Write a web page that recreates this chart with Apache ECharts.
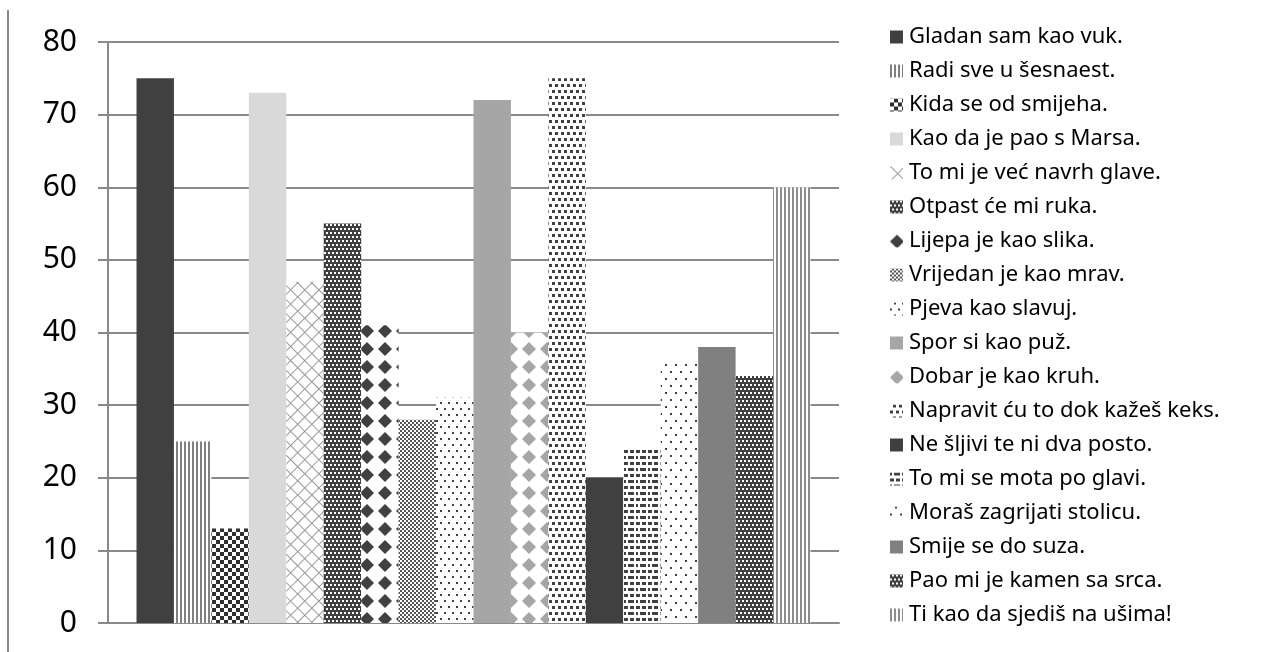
<!DOCTYPE html>
<html>
<head>
<meta charset="utf-8">
<script src="https://cdn.jsdelivr.net/npm/echarts@6/dist/echarts.min.js"></script>
<style>html,body{margin:0;padding:0;background:#fff;}#c{width:1262px;height:652px;}</style>
</head>
<body>
<div id="c"></div>
<script>
var categories = [''];
var seriesNames = [
  'Gladan sam kao vuk.',
  'Radi sve u šesnaest.',
  'Kida se od smijeha.',
  'Kao da je pao s Marsa.',
  'To mi je već navrh glave.',
  'Otpast će mi ruka.',
  'Lijepa je kao slika.',
  'Vrijedan je kao mrav.',
  'Pjeva kao slavuj.',
  'Spor si kao puž.',
  'Dobar je kao kruh.',
  'Napravit ću to dok kažeš keks.',
  'Ne šljivi te ni dva posto.',
  'To mi se mota po glavi.',
  'Moraš zagrijati stolicu.',
  'Smije se do suza.',
  'Pao mi je kamen sa srca.',
  'Ti kao da sjediš na ušima!'
];
var seriesValues = [75, 25, 13, 73, 47, 55, 41, 28, 31, 72, 40, 75, 20, 24, 36, 38, 34, 60];
var yTicks = [0, 10, 20, 30, 40, 50, 60, 70, 80];

// fill styles (base colour + optional pattern)
var gridRows = [[10, 0]];
for (var i = 0; i < 9; i++) gridRows.push([1, 9]);
var styles = [
  {color: '#404040'},
  {color: '#ffffff', decal: {symbol: 'rect', symbolSize: 1, color: '#808080', dashArrayX: [2, 2], dashArrayY: [1, 0]}},
  {color: '#ffffff', decal: {symbol: 'rect', symbolSize: 1, color: '#303030', dashArrayX: [[4, 4], [0, 4, 4, 0]], dashArrayY: [4, 0]}},
  {color: '#d9d9d9'},
  {color: '#ffffff', decal: {symbol: 'rect', symbolSize: 1, color: '#9a9a9a', dashArrayX: gridRows, dashArrayY: [1, 0], rotation: Math.PI / 4}},
  {color: '#404040', decal: {symbol: 'rect', symbolSize: 1, color: '#ffffff', dashArrayX: [[2, 2], [0, 2, 2, 0]], dashArrayY: [2, 2]}},
  {color: '#ffffff', decal: {symbol: 'diamond', symbolSize: 1, color: '#404040', dashArrayX: [14, 4], dashArrayY: [14, 4]}},
  {color: '#ffffff', decal: {symbol: 'rect', symbolSize: 1, color: '#555555', dashArrayX: [[2, 2], [0, 2, 2, 0]], dashArrayY: [2, 0]}},
  {color: '#ffffff', decal: {symbol: 'rect', symbolSize: 1, color: '#404040', dashArrayX: [[2, 6], [0, 4, 2, 2]], dashArrayY: [2, 4]}},
  {color: '#a6a6a6'},
  {color: '#ffffff', decal: {symbol: 'diamond', symbolSize: 1, color: '#a6a6a6', dashArrayX: [14, 4], dashArrayY: [14, 4]}},
  {color: '#ffffff', decal: {symbol: 'rect', symbolSize: 1, color: '#404040', dashArrayX: [[3, 3], [0, 3, 3, 0]], dashArrayY: [3, 3]}},
  {color: '#404040'},
  {color: '#ffffff', decal: {symbol: 'rect', symbolSize: 1, color: '#404040', dashArrayX: [[4, 2, 4, 2], [2, 2, 6, 2]], dashArrayY: [3, 3]}},
  {color: '#ffffff', decal: {symbol: 'rect', symbolSize: 1, color: '#404040', dashArrayX: [[2, 8], [0, 5, 2, 3]], dashArrayY: [2, 5]}},
  {color: '#808080'},
  {color: '#404040', decal: {symbol: 'rect', symbolSize: 1, color: '#ffffff', dashArrayX: [[2, 2], [0, 2, 2, 0]], dashArrayY: [2, 2]}},
  {color: '#ffffff', decal: {symbol: 'rect', symbolSize: 1, color: '#8c8c8c', dashArrayX: [2, 2], dashArrayY: [1, 0]}}
];

var series = seriesNames.map(function (name, i) {
  var st = styles[i];
  var itemStyle = {color: st.color};
  if (st.decal) itemStyle.decal = st.decal;
  return {
    name: name,
    type: 'bar',
    data: [seriesValues[i]],
    barGap: '0%',
    barCategoryGap: '7.8%',
    itemStyle: itemStyle,
    animation: false
  };
});

var chart = echarts.init(document.getElementById('c'), null, {renderer: 'canvas'});
chart.setOption({
  animation: false,
  backgroundColor: '#ffffff',
  textStyle: {fontFamily: 'Noto Sans'},
  grid: {left: 108, right: 423, top: 42, bottom: 29, containLabel: false},
  graphic: [{
    type: 'line',
    shape: {x1: 8, y1: 10, x2: 8, y2: 652},
    style: {stroke: '#888888', lineWidth: 2}
  }],
  legend: {
    orient: 'vertical',
    left: 885,
    top: 20,
    icon: 'rect',
    itemWidth: 13,
    itemHeight: 13,
    itemGap: 10,
    textStyle: {fontFamily: 'Noto Sans', fontSize: 22, color: '#000', lineHeight: 24, padding: [0, 0, 0, 1]},
    data: seriesNames
  },
  xAxis: {
    type: 'category',
    data: categories,
    axisLine: {show: true, lineStyle: {color: '#8a8a8a', width: 2}},
    axisTick: {show: false},
    axisLabel: {show: false}
  },
  yAxis: {
    type: 'value',
    min: yTicks[0],
    max: yTicks[yTicks.length - 1],
    interval: 10,
    axisLine: {show: true, lineStyle: {color: '#8a8a8a', width: 2}},
    axisTick: {show: true, length: 10, inside: false, lineStyle: {color: '#8a8a8a', width: 2}},
    splitLine: {show: true, lineStyle: {color: '#8a8a8a', width: 2}},
    axisLabel: {fontFamily: 'Noto Sans', fontSize: 30, color: '#000', margin: 31}
  },
  series: series
});
</script>
</body>
</html>
